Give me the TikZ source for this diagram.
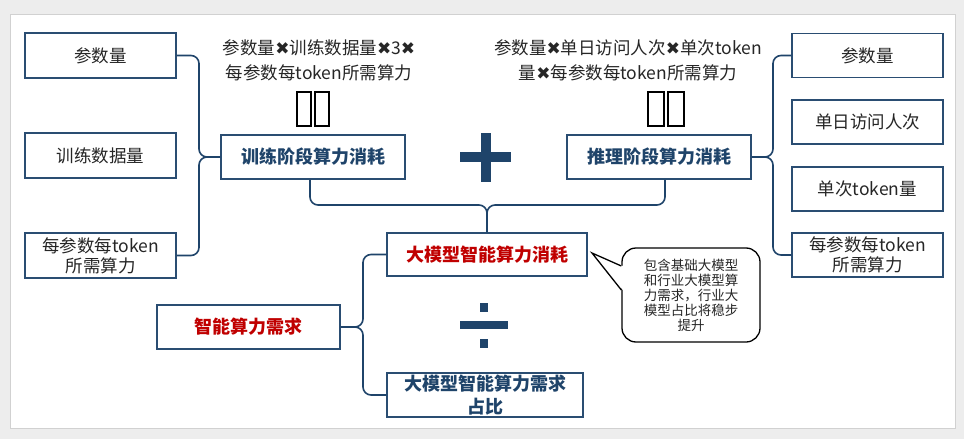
\documentclass[tikz,border=0pt]{standalone}
\usepackage{fontspec}
\setmainfont{Noto Sans CJK SC}
\newfontfamily\djv{DejaVu Sans}
\usetikzlibrary{calc}
\definecolor{navy}{HTML}{1F446A}
\definecolor{bordc}{HTML}{2A4D72}
\definecolor{redc}{HTML}{C00000}
\definecolor{txt}{HTML}{262626}
\newcommand{\timesx}{{\djv\fontsize{17}{17}\selectfont ✖}}
\tikzset{
  box/.style={draw=bordc, line width=1.6pt, fill=white, inner sep=0pt, align=center,
    text=txt, font=\fontsize{17.5}{20}\selectfont},
  sbox/.style={box, minimum width=151pt, minimum height=45pt},
  title/.style={box, text=navy, font=\fontsize{18}{23}\selectfont\bfseries},
  redt/.style={title, text=redc},
  conn/.style={draw=navy, line width=1.6pt, rounded corners=8pt},
  tofu/.style={draw=black, line width=1.4pt},
  formula/.style={align=center, inner sep=0pt, text=txt, font=\fontsize{17.5}{25}\selectfont},
}
\begin{document}
\begin{tikzpicture}[x=1pt,y=-1pt]
\useasboundingbox (0,0) rectangle (964,439);
\fill[black!7] (0,0) rectangle (964,439);
\fill[white, draw=black!18, line width=0.8pt] (10,14) rectangle (955,428);

% left inputs
\node[sbox] (l1) at (100.5,55.5) {参数量};
\node[sbox] (l2) at (100.5,155.5) {训练数据量};
\node[sbox] (l3) at (100.5,255.5) {每参数每token\\所需算力};

% right inputs
\node[sbox, minimum height=44pt] (r1) at (867.5,55.5) {参数量};
\node[sbox, minimum height=44pt] (r2) at (867.5,122) {单日访问人次};
\node[sbox, minimum height=44pt] (r3) at (867.5,189) {单次token量};
\node[sbox, minimum height=44pt] (r4) at (867.5,255) {每参数每token\\所需算力};

% stage boxes
\node[title, minimum width=184pt, minimum height=44pt] (train) at (313,157) {训练阶段算力消耗};
\node[title, minimum width=184pt, minimum height=44pt] (infer) at (659,157) {推理阶段算力消耗};

% formulas
\node[formula] (f1) at (319,60) {参数量\timesx 训练数据量\timesx 3\timesx\\每参数每token所需算力};
\node[formula] (f2) at (628,60) {参数量\timesx 单日访问人次\timesx 单次token\\量\timesx 每参数每token所需算力};

% tofu glyph boxes
\draw[tofu] (297,92) rectangle (311,126);
\draw[tofu] (315,92) rectangle (329,126);
\draw[tofu] (648,92) rectangle (664,126);
\draw[tofu] (668,92) rectangle (684,126);

% plus sign
\fill[navy] (460,152) rectangle (511,162);
\fill[navy] (481,133) rectangle (491,182);

% middle boxes
\node[redt, minimum width=200pt, minimum height=43pt] (big) at (487,254.5) {大模型智能算力消耗};
\node[redt, minimum width=183pt, minimum height=44pt] (need) at (248.5,327) {智能算力需求};
\node[title, minimum width=196pt, minimum height=44pt] (ratio) at (485,395) {大模型智能算力需求\\占比};

% division sign
\fill[navy] (460,321) rectangle (508,329);
\fill[navy] (480,303) rectangle (488,312);
\fill[navy] (480,339) rectangle (488,348);

% braces
\coordinate (bL) at (199,157);
\draw[conn] (l1.east) -| (bL) -- (train.west);
\draw[conn] (l3.east) -| (bL) -- (train.west);
\coordinate (bR) at (773,157);
\draw[conn] (r1.west) -| (bR) -- (infer.east);
\draw[conn] (r4.west) -| (bR) -- (infer.east);
\coordinate (bM) at (487,205);
\draw[conn] ([xshift=-3pt]train.south) |- (bM) -- (big.north);
\draw[conn] ([xshift=6pt]infer.south) |- (bM) -- (big.north);
\coordinate (bB) at (363,327);
\draw[conn] (big.west) -| (bB) -- (need.east);
\draw[conn] (ratio.west) -| (bB) -- (need.east);

% callout
\node[draw=black, line width=1.3pt, fill=white, rounded corners=14pt, minimum width=138pt,
  minimum height=94pt, align=center, inner sep=0pt, text=txt,
  font=\fontsize{13.5}{15}\selectfont] (note) at (691,295)
  {包含基础大模型\\和行业大模型算\\力需求，行业大\\模型占比将稳步\\提升};
\coordinate (tip) at (592,253);
\fill[white] (tip) -- ($(note.west)+(1.5,-29)$) -- ($(note.west)+(1.5,-5)$) -- cycle;
\draw[black, line width=1.3pt] ($(note.west)+(0,-29)$) -- (tip) -- ($(note.west)+(0,-5)$);
\end{tikzpicture}
\end{document}
